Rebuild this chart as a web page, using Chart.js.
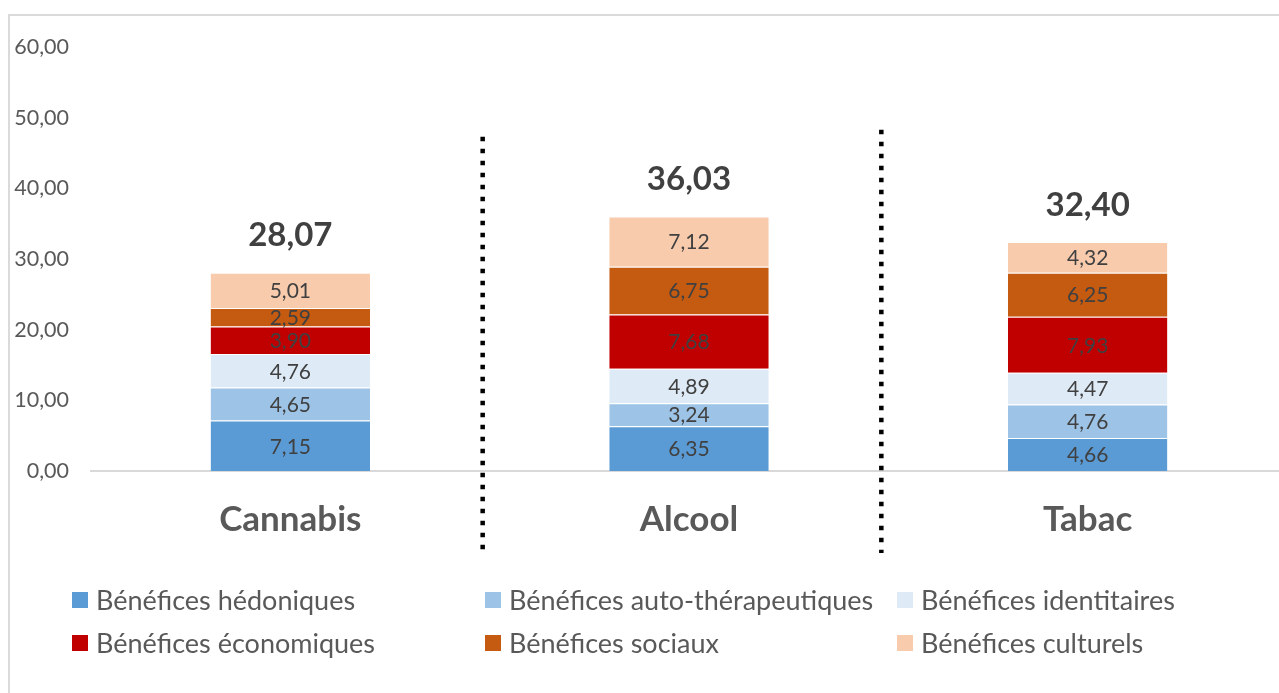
<!DOCTYPE html>
<html>
<head>
<meta charset="utf-8">
<script src="https://cdn.jsdelivr.net/npm/chart.js@4/dist/chart.umd.min.js"></script>
<style>
  html, body { margin: 0; padding: 0; background: #fff; overflow: hidden; }
  #wrap { position: relative; width: 1279px; height: 693px; overflow: hidden; }
  #frame { position: absolute; left: 8px; top: 14px; width: 1400px; height: 800px; border-left: 2px solid #dadada; border-top: 2px solid #dadada; }
  #chart { position: absolute; left: 0; top: 0; }
  .leg { position: absolute; font: 27px Lato, sans-serif; line-height: 32px; color: #595959; white-space: nowrap; }
  .leg i { position: absolute; left: -24px; top: 8px; width: 16px; height: 16px; }
</style>
</head>
<body>
<div id="wrap">
  <div id="frame"></div>
  <canvas id="chart" width="1300" height="693"></canvas>
  <div id="legend"></div>
</div>
<script>
const categories = ["Cannabis", "Alcool", "Tabac"];
const seriesNames = [
  "Bénéfices hédoniques",
  "Bénéfices auto-thérapeutiques",
  "Bénéfices identitaires",
  "Bénéfices économiques",
  "Bénéfices sociaux",
  "Bénéfices culturels",
];
const hedoniques = [7.15, 6.35, 4.66];
const autoTherapeutiques = [4.65, 3.24, 4.76];
const identitaires = [4.76, 4.89, 4.47];
const economiques = [3.90, 7.68, 7.93];
const sociaux = [2.59, 6.75, 6.25];
const culturels = [5.01, 7.12, 4.32];
const totals = [28.07, 36.03, 32.40];
const yTicks = [0, 10, 20, 30, 40, 50, 60];

const colors = ["#5b9bd5", "#9dc3e6", "#deebf7", "#c00000", "#c55a11", "#f8cbad"];
const seriesValues = [hedoniques, autoTherapeutiques, identitaires, economiques, sociaux, culturels];

const fr = (v) => v.toFixed(2).replace(".", ",");

// labels inside each segment + totals above the stacks + dotted separators
const decor = {
  id: "decor",
  afterDatasetsDraw(chart) {
    const { ctx, chartArea } = chart;
    const xs = chart.scales.x, ys = chart.scales.y;
    ctx.save();
    ctx.textAlign = "center";
    ctx.textBaseline = "middle";
    ctx.fillStyle = "#404040";
    ctx.font = "21px Lato, sans-serif";
    chart.data.datasets.forEach((ds, di) => {
      chart.getDatasetMeta(di).data.forEach((bar, i) => {
        ctx.fillText(fr(ds.data[i]), bar.x, (bar.y + bar.base) / 2 + 1);
      });
    });
    ctx.font = "bold 33px Lato, sans-serif";
    const top = chart.getDatasetMeta(chart.data.datasets.length - 1).data;
    totals.forEach((t, i) => {
      ctx.fillText(fr(t), top[i].x, top[i].y - 37);
    });

    ctx.strokeStyle = "#000";
    ctx.lineWidth = 4.5;
    ctx.setLineDash([4.5, 7.5]);
    for (let i = 0; i < categories.length - 1; i++) {
      const x = (xs.getPixelForValue(i) + xs.getPixelForValue(i + 1)) / 2 - 7;
      ctx.beginPath();
      ctx.moveTo(x, ys.getPixelForValue(i === 0 ? 47.3 : 48.3));
      ctx.lineTo(x, chartArea.bottom + 82);
      ctx.stroke();
    }
    ctx.restore();
  },
};

new Chart(document.getElementById("chart").getContext("2d"), {
  type: "bar",
  data: {
    labels: categories,
    datasets: seriesNames.map((name, k) => ({
      label: name,
      data: seriesValues[k],
      backgroundColor: colors[k],
      borderColor: "rgba(255,255,255,0.7)",
      borderWidth: { top: 1 },
      borderSkipped: "start",
      barPercentage: 0.4,
      categoryPercentage: 1,
    })),
  },
  options: {
    responsive: false,
    animation: false,
    devicePixelRatio: 1,
    layout: { padding: { top: 47, right: 13, left: 0, bottom: 0 } },
    plugins: { legend: { display: false }, tooltip: { enabled: false } },
    scales: {
      x: {
        stacked: true,
        afterFit: (s) => { s.height = 693 - 471; },
        grid: { display: true, drawOnChartArea: false, drawTicks: false, color: "transparent" },
        border: { display: true, color: "#d9d9d9", width: 2 },
        ticks: { color: "#595959", font: { family: "Lato", size: 35, weight: "bold" }, padding: 28 },
      },
      y: {
        stacked: true,
        min: 0,
        max: 60,
        afterFit: (s) => { s.width = 91; },
        afterBuildTicks: (s) => { s.ticks = yTicks.map((v) => ({ value: v })); },
        grid: { display: false },
        border: { display: false },
        ticks: { color: "#595959", font: { family: "Lato", size: 21.5 }, padding: 14, callback: (v) => fr(v) },
      },
    },
  },
  plugins: [decor],
});

// legend in three aligned columns, two rows
const legCols = [96, 509, 921];
const legRows = [584, 627];
const legend = document.getElementById("legend");
seriesNames.forEach((name, k) => {
  const d = document.createElement("div");
  d.className = "leg";
  d.style.left = legCols[k % 3] + "px";
  d.style.top = legRows[Math.floor(k / 3)] + "px";
  d.innerHTML = `<i style="background:${colors[k]}"></i>${name}`;
  legend.appendChild(d);
});
</script>
</body>
</html>
